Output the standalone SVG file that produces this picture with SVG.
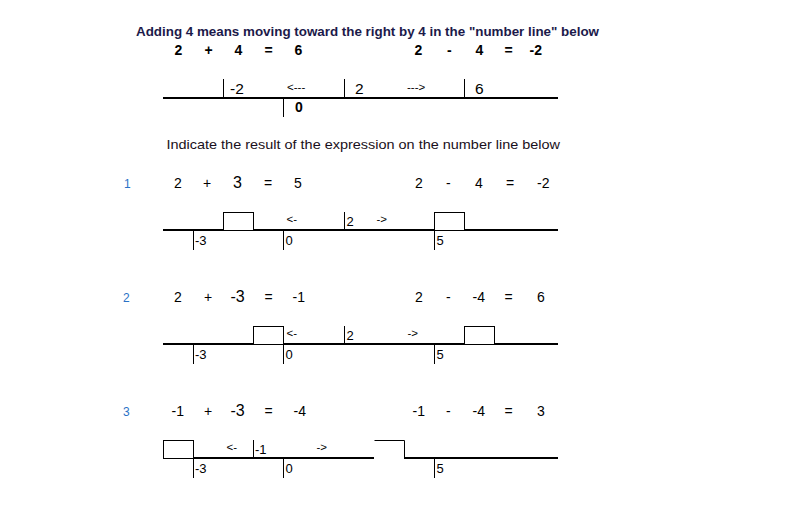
<svg xmlns="http://www.w3.org/2000/svg" width="799" height="525" viewBox="0 0 799 525">
<style>
text{font-family:"Liberation Sans",Arial,sans-serif;fill:#000}
.title{font-size:12.5px;font-weight:bold;fill:#1c1a4a}
.eqb{font-size:14px;font-weight:bold}
.eq{font-size:14px}
.big{font-size:16px}
.num{font-size:12px;fill:#2a72c6}
.lbl{font-size:13px}
.lblT{font-size:15.5px}
.arr{font-size:11.5px}
.sub{font-size:13px;fill:#1a1020}
.axis{stroke:#000;stroke-width:2;fill:none}
.tick{stroke:#000;stroke-width:1;fill:none}
.box{stroke:#000;stroke-width:1;fill:#fff}
</style>
<rect width="799" height="525" fill="#fff"/>

<g id="header">
<text class="title" x="136" y="35.5" textLength="463" lengthAdjust="spacingAndGlyphs">Adding 4 means moving toward the right by 4 in the "number line" below</text>
<text class="eqb" x="174.5" y="54.5">2</text>
<text class="eqb" x="204.5" y="54.5">+</text>
<text class="eqb" x="234.5" y="54.5">4</text>
<text class="eqb" x="264.5" y="54.5">=</text>
<text class="eqb" x="294.5" y="54.5">6</text>
<text class="eqb" x="414.5" y="54.5">2</text>
<text class="eqb" x="447" y="54.5">-</text>
<text class="eqb" x="475.5" y="54.5">4</text>
<text class="eqb" x="504.5" y="54.5">=</text>
<text class="eqb" x="529.5" y="54.5">-2</text>
</g>

<g id="example-line">
<line class="axis" x1="163" y1="98" x2="558" y2="98"/>
<line class="tick" x1="223.5" y1="79" x2="223.5" y2="97"/>
<line class="tick" x1="344.5" y1="79" x2="344.5" y2="97"/>
<line class="tick" x1="464.5" y1="79" x2="464.5" y2="97"/>
<line class="tick" x1="283.5" y1="99" x2="283.5" y2="117"/>
<text class="lblT" x="230" y="94">-2</text>
<text class="arr" x="287" y="91">&lt;---</text>
<text class="lblT" x="355" y="94">2</text>
<text class="arr" x="407" y="91">---&gt;</text>
<text class="lblT" x="475" y="94">6</text>
<text class="eqb" x="295" y="111.5">0</text>
</g>

<text class="sub" x="166.5" y="149" textLength="393.5" lengthAdjust="spacingAndGlyphs">Indicate the result of the expression on the number line below</text>

<g id="row1">
<text class="num" x="124" y="188">1</text>
<text class="eq" x="174" y="188">2</text>
<text class="eq" x="203" y="188">+</text>
<text class="big" x="233" y="188">3</text>
<text class="eq" x="264" y="188">=</text>
<text class="eq" x="294" y="188">5</text>
<text class="eq" x="415" y="188">2</text>
<text class="eq" x="446" y="188">-</text>
<text class="eq" x="475" y="188">4</text>
<text class="eq" x="506" y="188">=</text>
<text class="eq" x="537" y="188">-2</text>
<line class="axis" x1="163" y1="230" x2="558" y2="230"/>
<rect class="box" x="223.5" y="212.5" width="30" height="18"/>
<rect class="box" x="434.5" y="212.5" width="30" height="18"/>
<line class="tick" x1="344.5" y1="212" x2="344.5" y2="229"/>
<line class="tick" x1="193.5" y1="231" x2="193.5" y2="250"/>
<line class="tick" x1="283.5" y1="231" x2="283.5" y2="250"/>
<line class="tick" x1="434.5" y1="231" x2="434.5" y2="250"/>
<text class="arr" x="286.5" y="223">&lt;-</text>
<text class="lbl" x="346.5" y="225.5">2</text>
<text class="arr" x="376.5" y="223">-&gt;</text>
<text class="lbl" x="195" y="244.5">-3</text>
<text class="lbl" x="285.5" y="244.5">0</text>
<text class="lbl" x="436.5" y="244.5">5</text>
</g>

<g id="row2">
<text class="num" x="123" y="302">2</text>
<text class="eq" x="174" y="302">2</text>
<text class="eq" x="204" y="302">+</text>
<text class="big" x="230.5" y="302">-3</text>
<text class="eq" x="264.5" y="302">=</text>
<text class="eq" x="292.5" y="302">-1</text>
<text class="eq" x="415" y="302">2</text>
<text class="eq" x="446" y="302">-</text>
<text class="eq" x="472.5" y="302">-4</text>
<text class="eq" x="504.5" y="302">=</text>
<text class="eq" x="537" y="302">6</text>
<line class="axis" x1="163" y1="344" x2="558" y2="344"/>
<rect class="box" x="253.5" y="326.5" width="30" height="18"/>
<rect class="box" x="464.5" y="326.5" width="30" height="18"/>
<line class="tick" x1="344.5" y1="326" x2="344.5" y2="343"/>
<line class="tick" x1="193.5" y1="345" x2="193.5" y2="364"/>
<line class="tick" x1="283.5" y1="345" x2="283.5" y2="364"/>
<line class="tick" x1="434.5" y1="345" x2="434.5" y2="364"/>
<text class="arr" x="286.5" y="337">&lt;-</text>
<text class="lbl" x="346.5" y="339.5">2</text>
<text class="arr" x="407.5" y="337">-&gt;</text>
<text class="lbl" x="195" y="358.5">-3</text>
<text class="lbl" x="285.5" y="358.5">0</text>
<text class="lbl" x="436.5" y="358.5">5</text>
</g>

<g id="row3">
<text class="num" x="123" y="415.5">3</text>
<text class="eq" x="171.5" y="415.5">-1</text>
<text class="eq" x="204" y="415.5">+</text>
<text class="big" x="230.5" y="415.5">-3</text>
<text class="eq" x="264.5" y="415.5">=</text>
<text class="eq" x="293.5" y="415.5">-4</text>
<text class="eq" x="412.5" y="415.5">-1</text>
<text class="eq" x="446" y="415.5">-</text>
<text class="eq" x="472.5" y="415.5">-4</text>
<text class="eq" x="504.5" y="415.5">=</text>
<text class="eq" x="537" y="415.5">3</text>
<line class="axis" x1="194" y1="458" x2="374" y2="458"/>
<line class="axis" x1="404" y1="458" x2="558" y2="458"/>
<rect class="box" x="163.5" y="440.5" width="30" height="18"/>
<path class="tick" d="M374.5,440.5 H404.5 V458"/>
<line class="tick" x1="253.5" y1="440" x2="253.5" y2="457"/>
<line class="tick" x1="193.5" y1="459" x2="193.5" y2="478"/>
<line class="tick" x1="283.5" y1="459" x2="283.5" y2="478"/>
<line class="tick" x1="434.5" y1="459" x2="434.5" y2="478"/>
<text class="arr" x="226.5" y="451">&lt;-</text>
<text class="lbl" x="255" y="453.5">-1</text>
<text class="arr" x="316.5" y="451">-&gt;</text>
<text class="lbl" x="195" y="472.5">-3</text>
<text class="lbl" x="285.5" y="472.5">0</text>
<text class="lbl" x="436.5" y="472.5">5</text>
</g>
</svg>
